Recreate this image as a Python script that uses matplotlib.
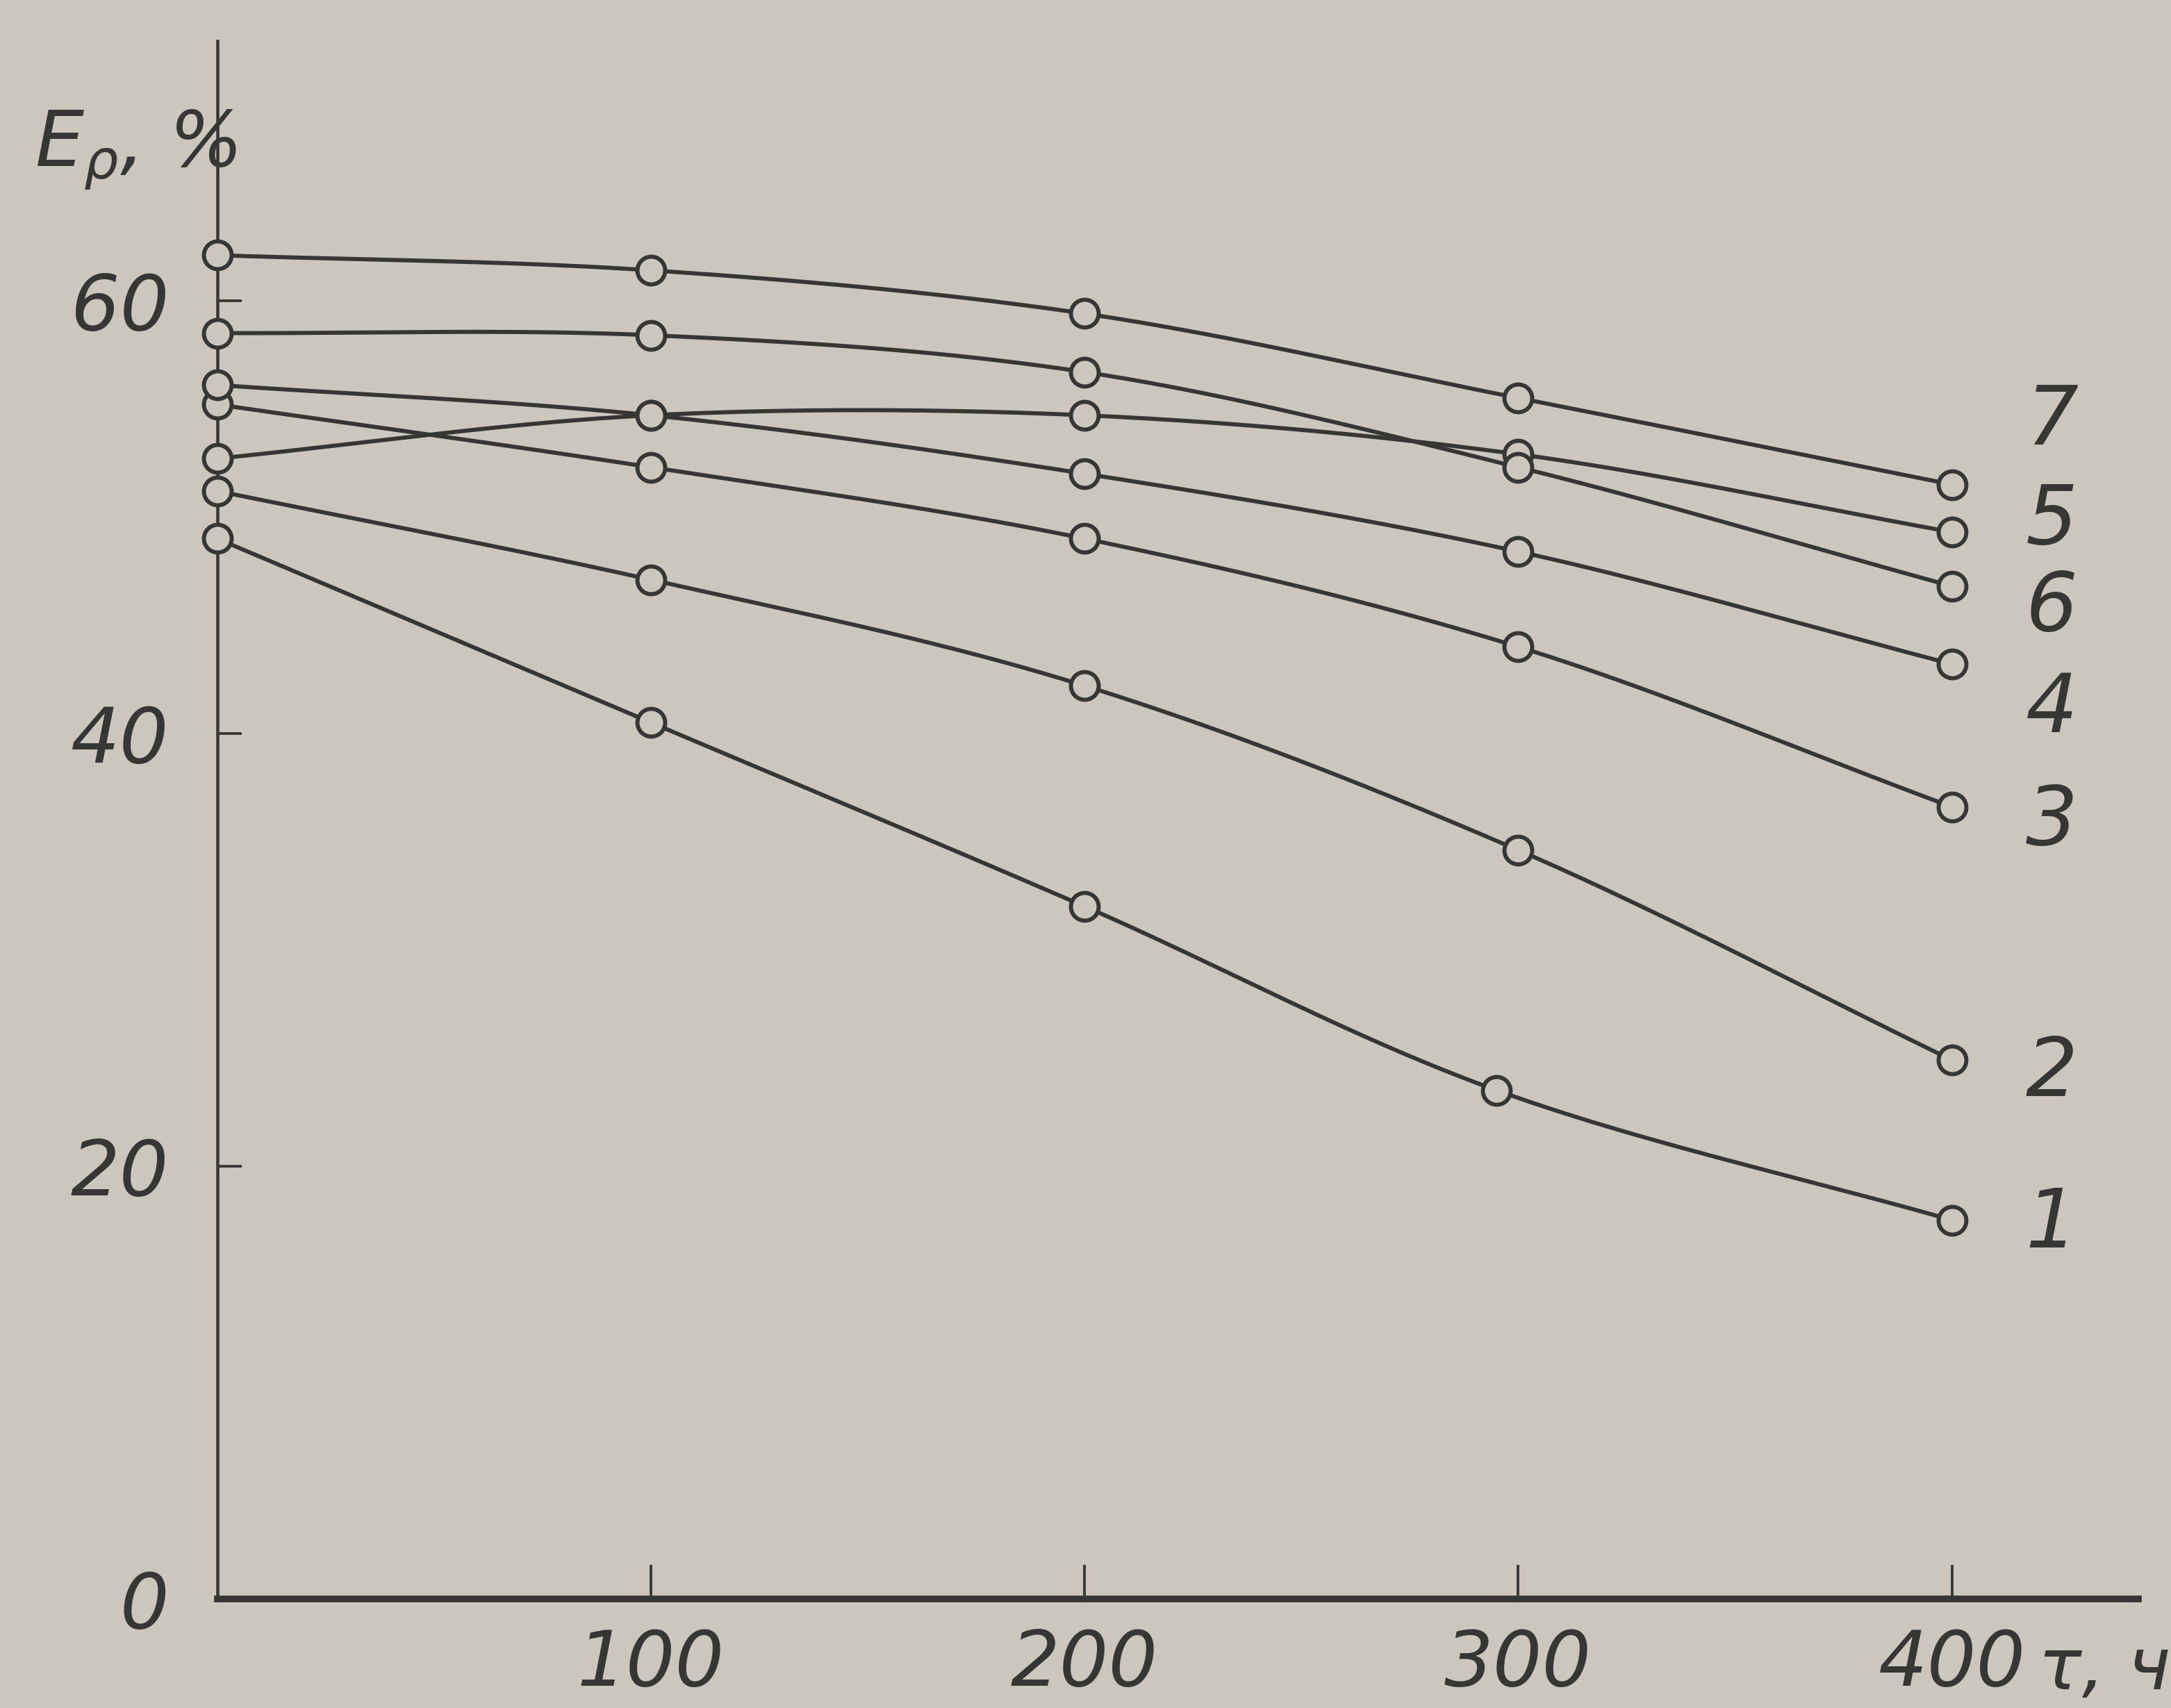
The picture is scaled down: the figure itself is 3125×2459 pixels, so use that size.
import numpy as np
import matplotlib.pyplot as plt

# time, h (curve 1 has its 3rd point a bit earlier)
tau = [0, 100, 200, 300, 400]
tau_1 = [0, 100, 200, 295, 400]

# E_rho, % for curves 1..7
e_1 = [49.0, 40.5, 32.0, 23.5, 17.5]
e_2 = [51.2, 47.1, 42.2, 34.6, 24.9]
e_3 = [55.2, 52.3, 49.0, 44.0, 36.6]
e_4 = [56.1, 54.7, 52.0, 48.4, 43.2]
e_5 = [52.7, 54.7, 54.7, 52.9, 49.3]
e_6 = [58.5, 58.4, 56.7, 52.3, 46.8]
e_7 = [62.1, 61.4, 59.4, 55.5, 51.5]

curve_names = ["1", "2", "3", "4", "5", "6", "7"]
label_y = [17.3, 24.3, 35.9, 41.1, 49.8, 45.8, 54.4]

x_ticks = [100, 200, 300, 400]
y_ticks = [0, 20, 40, 60]

PAPER = "#cbc7bf"
INK = "#363634"


def smooth(x, y, n=40):
    """Catmull-Rom curve through the points, like a French curve would."""
    p = np.column_stack([x, y]).astype(float)
    p = np.vstack([2 * p[0] - p[1], p, 2 * p[-1] - p[-2]])
    out = []
    t = np.linspace(0, 1, n, endpoint=False)[:, None]
    for i in range(1, len(p) - 2):
        p0, p1, p2, p3 = p[i - 1], p[i], p[i + 1], p[i + 2]
        seg = 0.5 * (2 * p1 + (-p0 + p2) * t
                     + (2 * p0 - 5 * p1 + 4 * p2 - p3) * t ** 2
                     + (-p0 + 3 * p1 - 3 * p2 + p3) * t ** 3)
        out.append(seg)
    out.append(p[-2][None, :])
    out = np.vstack(out)
    return out[:, 0], out[:, 1]


plt.rcParams["font.family"] = ["DejaVu Sans"]
plt.rcParams["font.style"] = "italic"

fig = plt.figure(figsize=(12.5, 9.836), dpi=250, facecolor=PAPER)
ax = fig.add_axes([0.100, 0.064, 0.885, 0.912], facecolor=PAPER)

series = [(tau_1, e_1), (tau, e_2), (tau, e_3), (tau, e_4),
          (tau, e_5), (tau, e_6), (tau, e_7)]

for (xx, yy), name, ly in zip(series, curve_names, label_y):
    sx, sy = smooth(xx, yy)
    ax.plot(sx, sy, color=INK, lw=1.7, zorder=2)
    ax.plot(xx, yy, "o", ms=11.5, mfc=PAPER, mec=INK, mew=1.7, zorder=3,
            clip_on=False)
    ax.text(xx[-1] + 23, ly, name, color=INK, fontsize=34,
            ha="center", va="center")

ax.set_xlim(0, 443)
ax.set_ylim(0, 72)
for side in ("top", "right"):
    ax.spines[side].set_visible(False)
ax.spines["bottom"].set_linewidth(2.8)
ax.spines["left"].set_linewidth(1.3)
ax.spines["bottom"].set_color(INK)
ax.spines["left"].set_color(INK)

ax.set_xticks(x_ticks)
ax.set_yticks(y_ticks)
ax.tick_params(axis="both", direction="in", color=INK, labelcolor=INK,
               labelsize=32, width=1.1)
ax.tick_params(axis="x", length=14, pad=12)
ax.tick_params(axis="y", length=10, pad=20)

ax.text(-0.095, 0.93, r"$E_{\rho}$, %", transform=ax.transAxes,
        color=INK, fontsize=32, ha="left", va="center")
ax.text(0.948, -0.045, "τ, ч", transform=ax.transAxes,
        color=INK, fontsize=30, ha="left", va="center")

fig.savefig("out.png", facecolor=PAPER)
